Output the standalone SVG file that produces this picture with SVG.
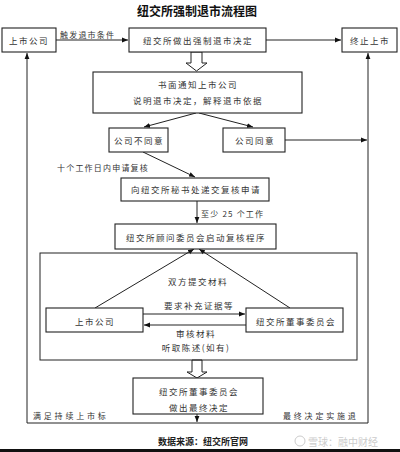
<svg xmlns="http://www.w3.org/2000/svg" width="400" height="452" viewBox="0 0 400 452">
<defs>
<marker id="ah" viewBox="0 0 10 10" refX="10" refY="5" markerWidth="6" markerHeight="6" orient="auto" markerUnits="userSpaceOnUse">
<path d="M0,1 L10,5 L0,9 z" fill="#111"/>
</marker>
<style>
.box{fill:#fff;stroke:#222;stroke-width:1.1}
.ln{fill:none;stroke:#222;stroke-width:1}
.arr{fill:none;stroke:#222;stroke-width:1;marker-end:url(#ah)}
.blk{fill:#fff;stroke:#222;stroke-width:1}
.t{font-family:"Noto Sans CJK SC","Noto Sans",sans-serif;font-size:8.5px;letter-spacing:1.5px;fill:#333;text-anchor:middle;dominant-baseline:central}
.lb{font-family:"Noto Sans CJK SC","Noto Sans",sans-serif;font-size:8px;letter-spacing:1.2px;fill:#333;dominant-baseline:central}
.title{font-family:"Noto Sans CJK SC",sans-serif;font-size:12px;font-weight:bold;fill:#111;text-anchor:middle;dominant-baseline:central}
.foot{font-family:"Noto Sans CJK SC",sans-serif;font-size:9px;font-weight:bold;fill:#222;text-anchor:middle;dominant-baseline:central}
.wm{font-family:"Noto Sans CJK SC",sans-serif;font-size:10px;fill:#ccc;dominant-baseline:central}
</style>
</defs>
<rect width="400" height="452" fill="#fff"/>
<text class="title" x="197" y="10">纽交所强制退市流程图</text>

<g id="connectors">
<path class="arr" d="M56,40 L128,40"/>
<path class="arr" d="M266,40 L341,40"/>
<path class="arr" d="M27,423 L27,53"/>
<path class="arr" d="M368,423 L368,53"/>
<path class="ln" d="M27,423 L368,423"/>
<path class="arr" d="M196,113 L144,127"/>
<path class="arr" d="M199,113 L253,127"/>
<path class="arr" d="M285,140 L367,140"/>
<path class="arr" d="M143,152 L195,177"/>
<path class="arr" d="M197,201 L197,223"/>
<path class="arr" d="M95,308 L194,249"/>
<path class="arr" d="M290,308 L199,249"/>
<path class="arr" d="M143,314 L245,314"/>
<path class="arr" d="M246,325 L144,325"/>
<path class="arr" d="M197,414 L197,422"/>
<path class="blk" d="M191,52 L202,52 L202,63 L207,63 L196.5,71 L186,63 L191,63 Z"/>
<path class="blk" d="M192,360 L202,360 L202,372 L207,372 L197,378 L187,372 L192,372 Z"/>
<text class="lb" x="60" y="34">触发退市条件</text>
<text class="lb" x="57" y="167">十个工作日内申请复核</text>
<text class="lb" x="201" y="213">至少 25 个工作</text>
<text class="t" x="198" y="281">双方提交材料</text>
<text class="t" x="199" y="305">要求补充证据等</text>
<text class="t" x="196" y="333">审核材料</text>
<text class="t" x="196" y="347">听取陈述(如有)</text>
<text class="lb" x="33" y="415" style="letter-spacing:2.8px">满足持续上市标</text>
<text class="lb" x="283" y="415" style="letter-spacing:2.8px">最终决定实施退</text>
</g>

<g id="frame"><rect class="ln" x="40" y="253" width="317" height="107"/></g>

<g id="n1"><rect class="box" x="2" y="28" width="54" height="24"/><text class="t" x="29" y="40">上市公司</text></g>
<g id="n2"><rect class="box" x="129" y="28" width="137" height="24"/><text class="t" x="198" y="40">纽交所做出强制退市决定</text></g>
<g id="n3"><rect class="box" x="342" y="28" width="55" height="24"/><text class="t" x="370" y="40">终止上市</text></g>
<g id="n4"><rect class="box" x="93" y="72" width="209" height="41"/><text class="t" x="198" y="84">书面通知上市公司</text><text class="t" x="198" y="100">说明退市决定，解释退市依据</text></g>
<g id="n5"><rect class="box" x="109" y="128" width="59" height="24"/><text class="t" x="139" y="140">公司不同意</text></g>
<g id="n6"><rect class="box" x="223" y="128" width="62" height="24"/><text class="t" x="255" y="140">公司同意</text></g>
<g id="n7"><rect class="box" x="121" y="178" width="148" height="23"/><text class="t" x="196" y="189">向纽交所秘书处递交复核申请</text></g>
<g id="n8"><rect class="box" x="115" y="224" width="161" height="25"/><text class="t" x="196" y="237">纽交所顾问委员会启动复核程序</text></g>
<g id="n9"><rect class="box" x="46" y="308" width="97" height="24"/><text class="t" x="95" y="321">上市公司</text></g>
<g id="n10"><rect class="box" x="246" y="308" width="97" height="24"/><text class="t" x="296" y="321">纽交所董事委员会</text></g>
<g id="n11"><rect class="box" x="133" y="378" width="130" height="36"/><text class="t" x="199" y="391">纽交所董事委员会</text><text class="t" x="199" y="407">做出最终决定</text></g>

<text class="foot" x="203" y="441">数据来源：纽交所官网</text>
<circle cx="300" cy="441" r="5" fill="none" stroke="#ccc" stroke-width="1"/>
<text class="wm" x="308" y="441">雪球：融中财经</text>
<rect x="0" y="449" width="400" height="3" fill="#111"/>
</svg>
